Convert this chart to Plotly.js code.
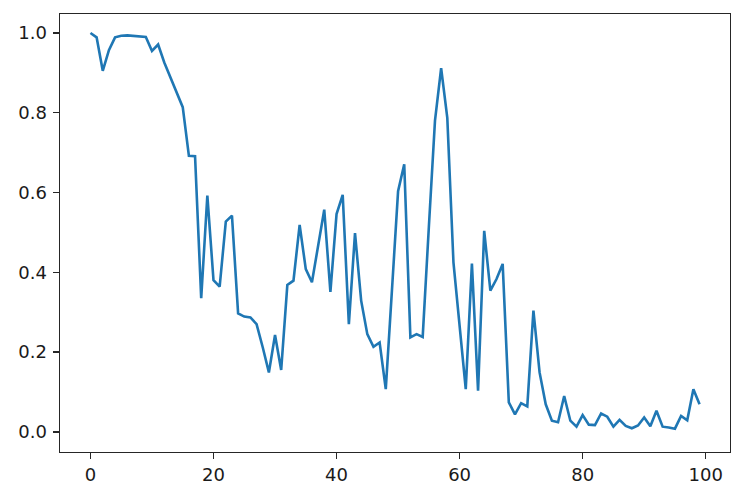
<!DOCTYPE html>
<html>
<head>
<meta charset="utf-8">
<script src="https://cdn.plot.ly/plotly-3.0.1.min.js"></script>
<style>html,body{margin:0;padding:0;background:#fff;}#chart{width:744px;height:496px;}</style>
</head>
<body>
<div id="chart"></div>
<script>
const xValues = Array.from({length: 100}, (_, i) => i);
const yValues = [
  1.000, 0.989, 0.905, 0.957, 0.989, 0.993, 0.994, 0.993, 0.992, 0.990,
  0.955, 0.971, 0.926, 0.889, 0.850, 0.814, 0.692, 0.691, 0.335, 0.592,
  0.380, 0.364, 0.527, 0.542, 0.297, 0.289, 0.287, 0.270, 0.212, 0.149,
  0.243, 0.155, 0.368, 0.379, 0.519, 0.408, 0.375, 0.467, 0.557, 0.351,
  0.546, 0.594, 0.270, 0.498, 0.329, 0.245, 0.213, 0.224, 0.107, 0.354,
  0.603, 0.671, 0.237, 0.245, 0.238, 0.513, 0.780, 0.912, 0.787, 0.425,
  0.266, 0.107, 0.422, 0.103, 0.504, 0.354, 0.383, 0.421, 0.074, 0.044,
  0.072, 0.064, 0.304, 0.149, 0.069, 0.028, 0.024, 0.090, 0.028, 0.013,
  0.042, 0.018, 0.017, 0.046, 0.038, 0.013, 0.030, 0.015, 0.009, 0.016,
  0.036, 0.014, 0.053, 0.013, 0.011, 0.008, 0.040, 0.029, 0.107, 0.069
];
const xTicks = [0, 20, 40, 60, 80, 100];
const yTicks = [0.0, 0.2, 0.4, 0.6, 0.8, 1.0];
const yTickText = ['0.0', '0.2', '0.4', '0.6', '0.8', '1.0'];

const axisCommon = {
  showgrid: false,
  zeroline: false,
  showline: true,
  linecolor: '#262626',
  linewidth: 1.4,
  mirror: true,
  ticks: 'outside',
  ticklen: 6,
  tickwidth: 1.4,
  tickcolor: '#262626',
  tickfont: {family: 'DejaVu Sans', size: 18, color: '#1a1a1a'}
};

Plotly.newPlot('chart', [{
  x: xValues,
  y: yValues,
  type: 'scatter',
  mode: 'lines',
  line: {color: '#1f77b4', width: 2.6},
  hoverinfo: 'skip'
}], {
  width: 744,
  height: 496,
  margin: {l: 60, r: 14, t: 14, b: 44},
  paper_bgcolor: '#fff',
  plot_bgcolor: '#fff',
  showlegend: false,
  xaxis: Object.assign({}, axisCommon, {
    range: [-4.95, 103.95],
    tickmode: 'array',
    tickvals: xTicks,
    ticktext: xTicks.map(String)
  }),
  yaxis: Object.assign({}, axisCommon, {
    range: [-0.0505, 1.0475],
    tickmode: 'array',
    tickvals: yTicks,
    ticktext: yTickText,
    ticklabelstandoff: 2
  })
}, {displayModeBar: false, staticPlot: true});
</script>
</body>
</html>
